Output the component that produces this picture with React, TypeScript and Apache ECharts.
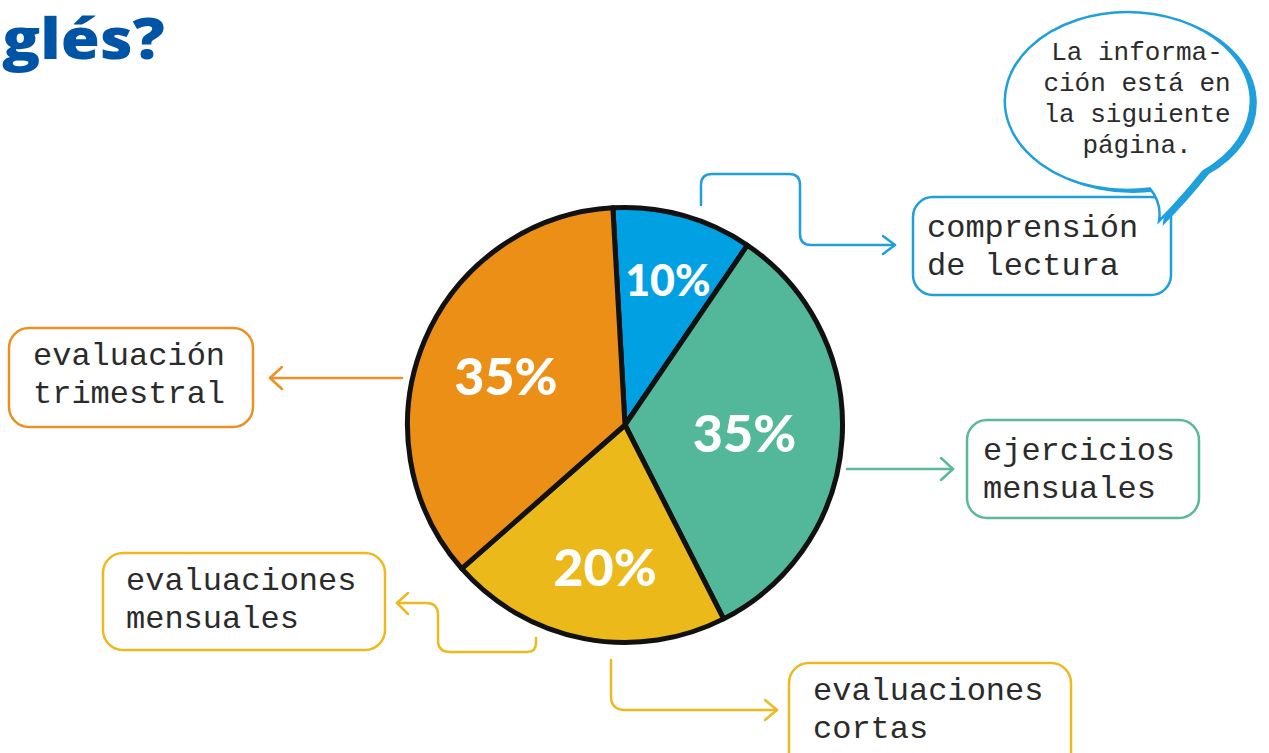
import React, { useEffect, useRef } from "react";
import * as echarts from "echarts";

// ---- data ----
const sliceNames = [
  "comprensión de lectura",
  "ejercicios mensuales",
  "evaluaciones mensuales y cortas",
  "evaluación trimestral",
];
const sliceValues = [10.4, 33, 21, 35.6];
const sliceLabels = ["10%", "35%", "20%", "35%"];
const boxTexts = [
  "comprensión\nde lectura",
  "ejercicios\nmensuales",
  "evaluaciones\nmensuales",
  "evaluaciones\ncortas",
  "evaluación\ntrimestral",
];
const bubbleText = "La informa-\nción está en\nla siguiente\npágina.";
const titleText = "glés?";

// ---- styles / layout ----
const sliceColors = ["#00A0E3", "#53B799", "#EBBA1A", "#EB8F17"];
const BLUE = "#1FA0DC";
const GREEN = "#5CB89A";
const YELLOW = "#EDB921";
const ORANGE = "#EB9124";
const TEXT = "#2b2b2b";
const MONO = "'Liberation Mono', 'DejaVu Sans Mono', monospace";

const labelFont = [43, 52, 52, 52];
const labelShift = [
  [13, -38],
  [8, 0],
  [1, 31],
  [-16, -7],
];

const boxes = [
  { x: 913, y: 197, w: 258, h: 98, color: BLUE, tx: 927, ty: 209.5 },
  { x: 967, y: 420, w: 232, h: 98, color: GREEN, tx: 983, ty: 432.5 },
  { x: 103, y: 553, w: 282, h: 97, color: YELLOW, tx: 126, ty: 562.5 },
  { x: 789, y: 663, w: 282, h: 120, color: YELLOW, tx: 813, ty: 672.5 },
  { x: 9, y: 328, w: 244, h: 99, color: ORANGE, tx: 33, ty: 337.5 },
];

const connectors = [
  {
    name: "connBlue",
    d: "M 701 205 L 701 185 Q 701 174 712 174 L 789 174 Q 800 174 800 185 L 800 234 Q 800 245 811 245 L 895 245",
    color: BLUE,
    arrow: [[883, 236], [895, 245], [883, 254]],
  },
  {
    name: "connOrange",
    d: "M 402 378 L 270 378",
    color: ORANGE,
    arrow: [[282, 367], [270, 378], [282, 389]],
  },
  {
    name: "connGreen",
    d: "M 847 469 L 953 469",
    color: GREEN,
    arrow: [[941, 458], [953, 469], [941, 480]],
  },
  {
    name: "connYellowA",
    d: "M 536 638 L 536 643 Q 536 652 527 652 L 450 652 Q 438 652 438 640 L 438 615 Q 438 603 426 603 L 397 603",
    color: YELLOW,
    arrow: [[408, 593], [397, 603], [408, 614]],
  },
  {
    name: "connYellowB",
    d: "M 611 660 L 611 696 Q 611 710 625 710 L 777 710",
    color: YELLOW,
    arrow: [[765, 700], [777, 710], [765, 720]],
  },
];

const bubblePath =
  "M 1150 188.6 A 123 89 0 1 1 1203 171.5 Q 1180 200 1159 221 Q 1162 203 1150 188.6 Z";

function registerShapes() {
  connectors.forEach((c) => {
    echarts.graphic.registerShape(c.name, echarts.graphic.extendPath(c.d, {}) as any);
  });
  echarts.graphic.registerShape("speechBubble", echarts.graphic.extendPath(bubblePath, {}) as any);
}

function buildOption() {
  const graphic: any[] = [];

  // title
  graphic.push({
    type: "text",
    x: 2,
    y: 37,
    scaleX: 1.13,
    z: 10,
    style: {
      text: titleText,
      fill: "#0054A6",
      font: "800 56px 'Open Sans', 'Noto Sans', sans-serif",
      verticalAlign: "middle",
      align: "left",
    },
  });

  // connectors
  connectors.forEach((c) => {
    graphic.push({
      type: c.name,
      z: 5,
      style: { fill: "none", stroke: c.color, lineWidth: 2.5, lineCap: "round", lineJoin: "round" },
    });
    graphic.push({
      type: "polyline",
      z: 5,
      shape: { points: c.arrow },
      style: { fill: "none", stroke: c.color, lineWidth: 2.5, lineCap: "round", lineJoin: "round" },
    });
  });

  // boxes
  boxes.forEach((b, i) => {
    graphic.push({
      type: "rect",
      z: 6,
      shape: { x: b.x, y: b.y, width: b.w, height: b.h, r: 20 },
      style: { fill: "#fff", stroke: b.color, lineWidth: 2.5 },
    });
    graphic.push({
      type: "text",
      z: 7,
      x: b.tx,
      y: b.ty,
      style: {
        text: boxTexts[i],
        fill: TEXT,
        font: `32px ${MONO}`,
        lineHeight: 38,
        align: "left",
        verticalAlign: "top",
      },
    });
  });

  // speech bubble (shadow + body)
  graphic.push({
    type: "speechBubble",
    x: 5,
    y: 2,
    z: 8,
    style: { fill: BLUE, stroke: BLUE, lineWidth: 2 },
  });
  graphic.push({
    type: "speechBubble",
    z: 9,
    style: { fill: "#fff", stroke: BLUE, lineWidth: 2.5 },
  });
  graphic.push({
    type: "text",
    z: 10,
    x: 1137,
    y: 37.5,
    style: {
      text: bubbleText,
      fill: TEXT,
      font: `26px ${MONO}`,
      lineHeight: 31,
      align: "center",
      verticalAlign: "top",
    },
  });

  return {
    animation: false,
    backgroundColor: "#ffffff",
    graphic,
    series: [
      {
        type: "pie",
        center: [625, 425],
        radius: 217.5,
        startAngle: 93.2,
        clockwise: true,
        silent: true,
        avoidLabelOverlap: false,
        labelLine: { show: false },
        emphasis: { disabled: true },
        itemStyle: { borderColor: "#111111", borderWidth: 5 },
        label: {
          show: true,
          position: "inside",
          color: "#ffffff",
          fontFamily: "Lato, 'Noto Sans', sans-serif",
          fontWeight: 900,
          formatter: (p: any) => sliceLabels[p.dataIndex],
        },
        labelLayout: (p: any) => ({
          dx: labelShift[p.dataIndex][0],
          dy: labelShift[p.dataIndex][1],
        }),
        data: sliceValues.map((v, i) => ({
          value: v,
          name: sliceNames[i],
          itemStyle: { color: sliceColors[i] },
          label: { fontSize: labelFont[i] },
        })),
      },
    ],
  };
}

export default function App() {
  const ref = useRef<HTMLDivElement>(null);
  useEffect(() => {
    if (!ref.current) return;
    registerShapes();
    const chart = echarts.init(ref.current, undefined, { renderer: "svg" });
    chart.setOption(buildOption() as any);
    return () => chart.dispose();
  }, []);
  return (
    <div
      ref={ref}
      style={{ position: "fixed", left: 0, top: 0, width: 1269, height: 753, background: "#fff" }}
    />
  );
}
